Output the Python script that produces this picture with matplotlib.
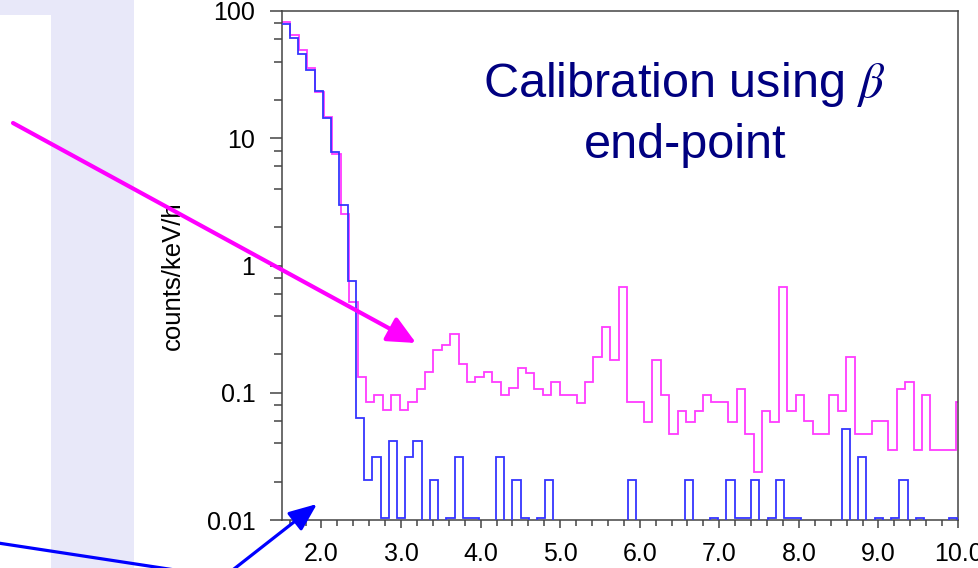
import numpy as np
import matplotlib
matplotlib.use('Agg')
import matplotlib.pyplot as plt
from matplotlib.patches import Rectangle, FancyArrowPatch
from matplotlib.ticker import FixedLocator, NullFormatter

plt.rcParams['font.family'] = ['Liberation Sans', 'DejaVu Sans']
plt.rcParams['mathtext.fontset'] = 'stix'

# ---------------- data ----------------
energy_start = 1.5          # keV, left edge of first bin
blue_bin_width = 0.1035     # keV
magenta_bin_width = 0.1059  # keV

blue_counts = [79, 61.6, 46, 34.3, 23.4, 14.4, 7.85, 2.98, 0.75, 0.0633,
               0.0207, 0.031, 0.0103, 0.0414, 0.0103, 0.031, 0.0414, 0, 0.0207, 0,
               0.0103, 0.031, 0.0103, 0.0103, 0, 0, 0.031, 0, 0.0207, 0.0103,
               0, 0.0103, 0.0207, 0, 0, 0, 0, 0, 0, 0,
               0, 0, 0.0207, 0, 0, 0, 0, 0, 0, 0.0207,
               0, 0, 0.0103, 0, 0.0207, 0.0103, 0.0103, 0.0207, 0, 0.0103,
               0.0207, 0.0103, 0.0103, 0, 0, 0, 0, 0, 0.0518, 0,
               0.031, 0, 0.0103, 0, 0.0103, 0.0207, 0, 0.0103, 0, 0,
               0, 0.0103, 0]

magenta_counts = [82.4, 65, 49.3, 35.6, 23.2, 14.6, 7.48, 2.55, 0.514, 0.132,
                  0.084, 0.0953, 0.0726, 0.0953, 0.0726, 0.084, 0.107, 0.1445, 0.215, 0.239,
                  0.29, 0.168, 0.1205, 0.132, 0.1445, 0.1205, 0.0964, 0.108, 0.156, 0.1437,
                  0.1075, 0.096, 0.1205, 0.096, 0.096, 0.0834, 0.1205, 0.191, 0.327, 0.181,
                  0.675, 0.0839, 0.0839, 0.0594, 0.1796, 0.0953, 0.0478, 0.0721, 0.0594, 0.0721,
                  0.0953, 0.0839, 0.0839, 0.0594, 0.1075, 0.0478, 0.0239, 0.0721, 0.0594, 0.675,
                  0.0721, 0.096, 0.0602, 0.0478, 0.0478, 0.096, 0.0721, 0.191, 0.0478, 0.0478,
                  0.0602, 0.0602, 0.0358, 0.1075, 0.1205, 0.0358, 0.096, 0.0358, 0.0358, 0.0358,
                  0.0839]

x_major_ticks = [2.0, 3.0, 4.0, 5.0, 6.0, 7.0, 8.0, 9.0, 10.0]
x_tick_labels = ['2.0', '3.0', '4.0', '5.0', '6.0', '7.0', '8.0', '9.0', '10.0']
y_major_ticks = [0.01, 0.1, 1, 10, 100]
y_tick_labels = ['0.01', '0.1', '1', '10', '100']
y_label = 'counts/keV/h'
title_line1 = r'Calibration using $\beta$'
title_line2 = 'end-point'

# ---------------- figure ----------------
W, H = 979, 568
fig = plt.figure(figsize=(W / 100, H / 100), dpi=100)
fig.patch.set_facecolor('white')

def fx(px):
    return px / W

def fy(py):
    return 1 - py / H

# slide background decoration
fig.add_artist(Rectangle((0, 0), fx(134), 1, transform=fig.transFigure,
                         facecolor='#E8E8F9', edgecolor='none', zorder=-2))
fig.add_artist(Rectangle((0, 0), fx(51), fy(15), transform=fig.transFigure,
                         facecolor='white', edgecolor='none', zorder=-1))

ax = fig.add_axes([fx(281.7), fy(520), fx(958) - fx(281.7), fy(11) - fy(520)])
ax.set_yscale('log', nonpositive='clip')

blue = np.array(blue_counts, dtype=float)
mag = np.array(magenta_counts, dtype=float)
blue_edges = energy_start + blue_bin_width * np.arange(len(blue) + 1)
mag_edges = energy_start + magenta_bin_width * np.arange(len(mag) + 1)

ax.stairs(np.clip(mag, 1e-4, None), mag_edges, baseline=None, color='#FF3CFF', lw=1.3, zorder=2)
ax.stairs(np.clip(blue, 1e-4, None), blue_edges, baseline=None, color='#3535FF', lw=1.3, zorder=3)

ax.set_xlim(1.5, 10.0)
ax.set_ylim(0.01, 100)

ax.set_xticks(x_major_ticks)
ax.set_xticklabels(x_tick_labels)
ax.xaxis.set_minor_locator(FixedLocator(np.arange(1.6, 10.01, 0.2)))
ax.xaxis.set_minor_formatter(NullFormatter())

ax.set_yticks(y_major_ticks)
ax.set_yticklabels(y_tick_labels)
ymin_locs = [m * 10.0 ** e for e in range(-2, 2) for m in (2, 4, 6, 8)]
ax.yaxis.set_minor_locator(FixedLocator(ymin_locs))
ax.yaxis.set_minor_formatter(NullFormatter())

tick_col = '#444444'
ax.tick_params(axis='y', which='major', direction='out', length=9, width=1.1,
               color=tick_col, labelsize=18, pad=10, right=False)
ax.tick_params(axis='y', which='minor', direction='out', length=6, width=1.1,
               color=tick_col, right=False)
ax.tick_params(axis='x', which='major', direction='out', length=6, width=1.1,
               color=tick_col, labelsize=18, pad=10, top=False)
ax.tick_params(axis='x', which='minor', direction='out', length=4, width=1.1,
               color=tick_col, top=False)
for s in ax.spines.values():
    s.set_color(tick_col)
    s.set_linewidth(1.1)

fig.text(fx(173), fy(276), y_label, rotation=90, ha='center', va='center', fontsize=18.5)

fig.text(fx(684), fy(96.7), title_line1, ha='center', va='baseline', fontsize=35, color='#000080')
fig.text(fx(685.5), fy(158.3), title_line2, ha='center', va='baseline', fontsize=35, color='#000080')

# arrows
fig.add_artist(FancyArrowPatch((fx(13), fy(123)), (fx(416), fy(343)), transform=fig.transFigure,
                               arrowstyle='-|>,head_length=17,head_width=8', mutation_scale=1,
                               color='#FF00FF', lw=3, shrinkA=0, shrinkB=0, zorder=5))
fig.add_artist(FancyArrowPatch((fx(225), fy(576)), (fx(317), fy(504)), transform=fig.transFigure,
                               arrowstyle='-|>,head_length=17,head_width=7', mutation_scale=1,
                               color='#0000FF', lw=2.3, shrinkA=0, shrinkB=0, zorder=5))
fig.add_artist(FancyArrowPatch((fx(-2), fy(543)), (fx(175), fy(570)), transform=fig.transFigure,
                               arrowstyle='-', color='#0000FF', lw=2.3, shrinkA=0, shrinkB=0, zorder=5))

fig.savefig('out.png', dpi=100, facecolor='white')
